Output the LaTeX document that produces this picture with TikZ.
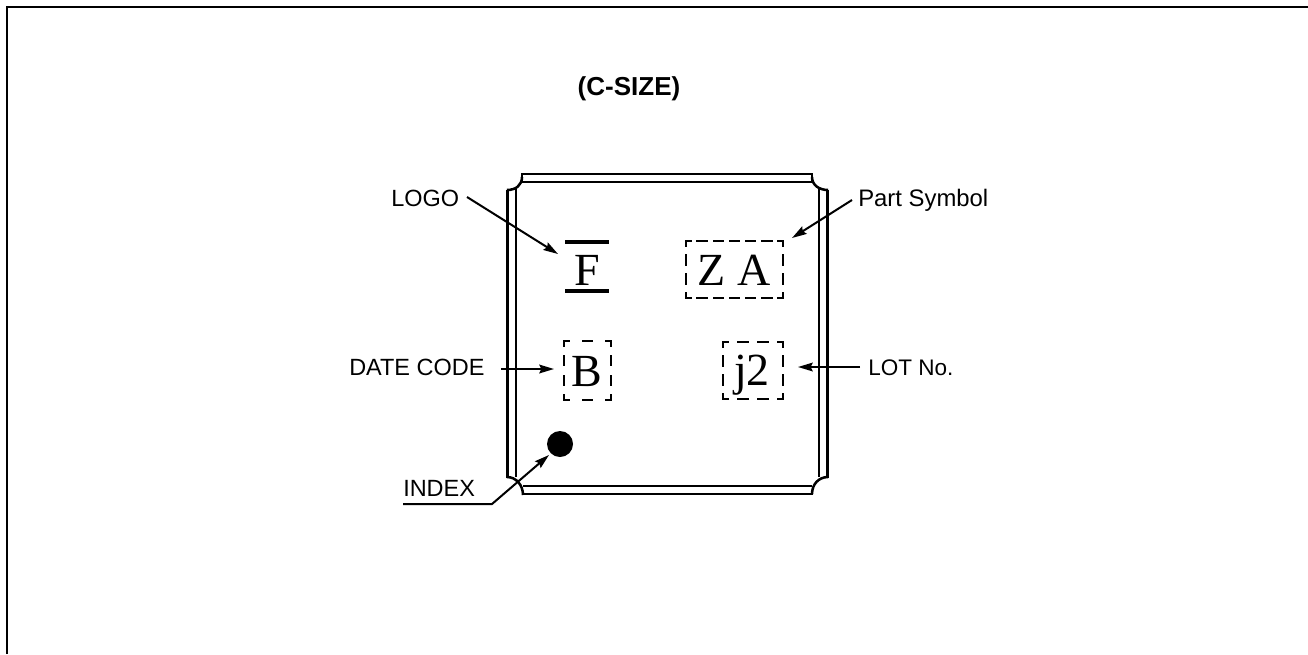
\documentclass[tikz,border=0pt]{standalone}
\usepackage{fontspec}
\setmainfont{Liberation Serif}
\setsansfont{Liberation Sans}
\usetikzlibrary{arrows.meta}
\newcommand{\lbl}{\fontsize{17.6}{20}\selectfont\sffamily}
\newcommand{\mrk}{\fontsize{34.5}{40}\selectfont\rmfamily}
\tikzset{
  px/.style={x=0.75pt,y=-0.75pt},
  pkg/.style={line width=1.9pt,line cap=butt,line join=miter},
  lead/.style={line width=1.5pt,-{Stealth[length=11pt,width=6.5pt,inset=1.5pt]}},
  dseg/.style={line width=1.6pt,line cap=rect,dash pattern=on 7pt off #1,dash phase=3.5pt},
  lbltext/.style={font=\lbl,inner sep=0pt,anchor=base west},
  marktext/.style={font=\mrk,inner sep=0pt,anchor=base}
}
\begin{document}
\begin{tikzpicture}[px]
\useasboundingbox (0,0) rectangle (1308,654);
\fill[white] (0,0) rectangle (1308,654);
% frame
\draw[line width=1.7pt] (7,654) -- (7,7) -- (1308,7);
% package outline
\draw[pkg] (522,182) -- (522,174) -- (812,174) -- (812,182);
\draw[pkg] (522,182) -- (812,182);
\draw[pkg] (812,177) .. controls (812,185) and (819,190) .. (828,190);
\draw[pkg] (819,189) -- (819,477);
\draw[pkg] (827.5,190) -- (827.5,478);
\draw[pkg] (828,477) .. controls (819,477) and (812,484) .. (812,494);
\draw[pkg] (812,486) -- (523,486);
\draw[pkg] (812.9,494) -- (522.1,494);
\draw[pkg] (523,495) .. controls (523,485) and (516,477) .. (507,477);
\draw[pkg] (516,477) -- (516,189);
\draw[pkg] (507.5,478) -- (507.5,190);
\draw[pkg] (507,190) .. controls (516,190) and (522,185) .. (522,177);
% title and labels
\node[inner sep=0pt,anchor=base,font=\fontsize{19.5}{22}\selectfont\sffamily\bfseries] (title) at (629,95) {(C-SIZE)};
\node[lbltext] (logo) at (391,206) {LOGO};
\node[lbltext,font=\fontsize{17.9}{20}\selectfont\sffamily] (part) at (858,206) {Part Symbol};
\node[lbltext] (date) at (349,375) {DATE CODE};
\node[lbltext,font=\fontsize{16.9}{20}\selectfont\sffamily] (lot) at (868,375) {LOT No.};
\node[lbltext] (index) at (403,496) {INDEX};
% F mark
\node[marktext] (f) at (587,285) {F};
\draw[line width=3pt] (565,242) -- (609,242);
\draw[line width=3pt] (565,291) -- (609,291);
% dashed boxes
\draw[dseg=5.13pt] (686,241) -- (783,241);
\draw[dseg=5.13pt] (686,298) -- (783,298);
\draw[dseg=7.25pt] (686,241) -- (686,298);
\draw[dseg=7.25pt] (783,241) -- (783,298);
\node[marktext] (za) at (734,285) {Z\hspace{0.27em}A};
\draw[dseg=10.6pt] (564,341) -- (611,341);
\draw[dseg=10.6pt] (564,400) -- (611,400);
\draw[dseg=7.75pt] (564,341) -- (564,400);
\draw[dseg=7.75pt] (611,341) -- (611,400);
\node[marktext] (b) at (587,386) {B};
\draw[dseg=8pt] (723,342) -- (783,342);
\draw[dseg=8pt] (723,399) -- (783,399);
\draw[dseg=7.25pt] (723,342) -- (723,399);
\draw[dseg=7.25pt] (783,342) -- (783,399);
\node[marktext] (j2) at (752,385) {j2};
% index dot
\fill (560,444) circle (13);
% leaders
\coordinate (logoS) at (467,197);
\coordinate (logoT) at (558,254);
\coordinate (partS) at (852,200);
\coordinate (partT) at (792,238);
\coordinate (dateS) at (501,369);
\coordinate (dateT) at (554,369);
\coordinate (lotS) at (860,367);
\coordinate (lotT) at (798,367);
\coordinate (indexA) at (403,504);
\coordinate (indexB) at (492,504);
\coordinate (indexT) at (549,455);
\draw[lead] (logoS) -- (logoT);
\draw[lead] (partS) -- (partT);
\draw[lead] (dateS) -- (dateT);
\draw[lead] (lotS) -- (lotT);
\draw[lead] (indexA) -- (indexB) -- (indexT);
\end{tikzpicture}
\end{document}
